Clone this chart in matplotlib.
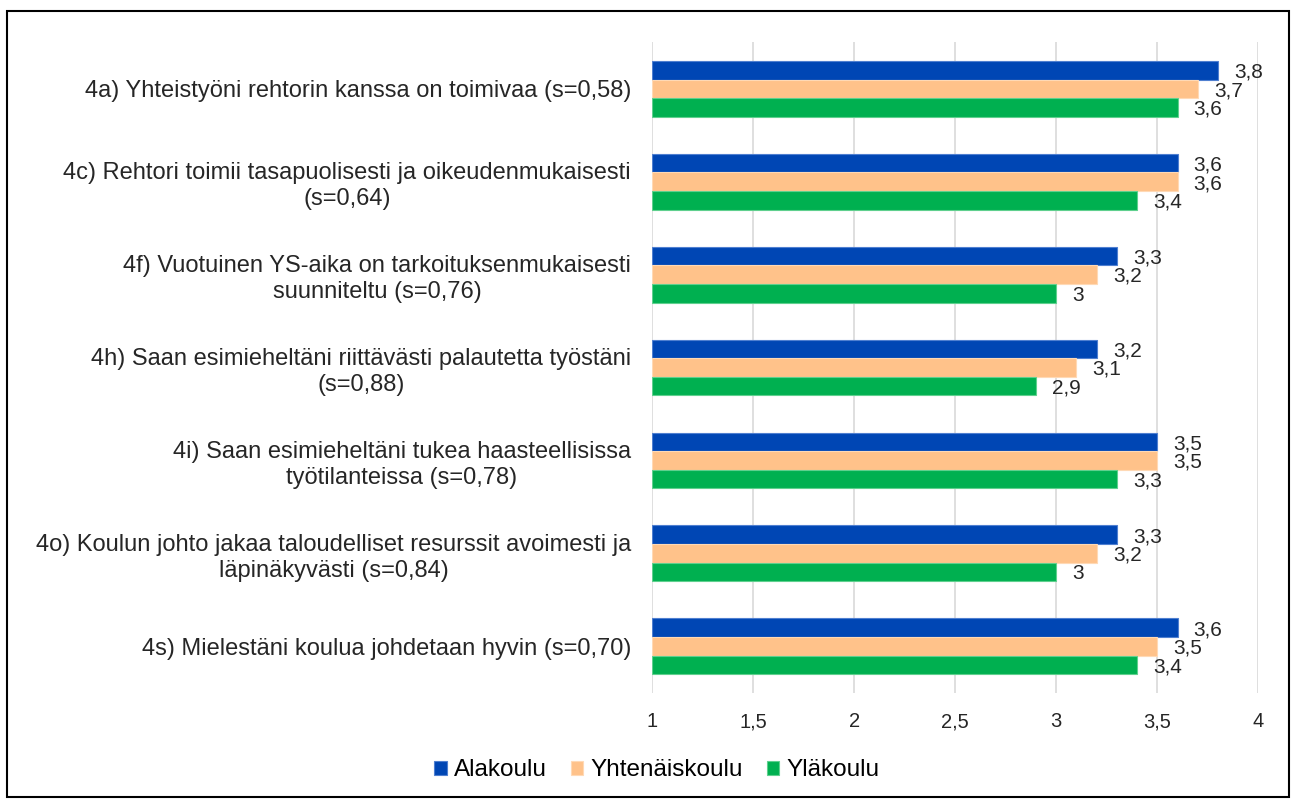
import numpy as np
import matplotlib.pyplot as plt
from matplotlib.patches import Rectangle

plt.rcParams['font.family'] = ['Liberation Sans', 'DejaVu Sans']

questions = [
    "4a) Yhteistyöni rehtorin kanssa on toimivaa (s=0,58)",
    "4c) Rehtori toimii tasapuolisesti ja oikeudenmukaisesti\n(s=0,64)",
    "4f) Vuotuinen YS-aika on tarkoituksenmukaisesti\nsuunniteltu (s=0,76)",
    "4h) Saan esimieheltäni riittävästi palautetta työstäni\n(s=0,88)",
    "4i) Saan esimieheltäni tukea haasteellisissa\ntyötilanteissa (s=0,78)",
    "4o) Koulun johto jakaa taloudelliset resurssit avoimesti ja\nläpinäkyvästi (s=0,84)",
    "4s) Mielestäni koulua johdetaan hyvin (s=0,70)",
]
alakoulu = [3.8, 3.6, 3.3, 3.2, 3.5, 3.3, 3.6]
yhtenaiskoulu = [3.7, 3.6, 3.2, 3.1, 3.5, 3.2, 3.5]
ylakoulu = [3.6, 3.4, 3.0, 2.9, 3.3, 3.0, 3.4]

series = [("Alakoulu", alakoulu, "#0046B4", "#4F7FD0"),
          ("Yhtenäiskoulu", yhtenaiskoulu, "#FFC28A", "#FFD9B5"),
          ("Yläkoulu", ylakoulu, "#00B050", "#5FD08E")]

fig = plt.figure(figsize=(12.96, 7.99), dpi=100)
ax = fig.add_axes([0.503, 0.133, 0.468, 0.814])

y = np.arange(len(questions))
h = 0.2
for k, (name, vals, col, edge) in enumerate(series):
    pos = y - h + k * h
    ax.barh(pos, np.array(vals) - 1, left=1, height=h, color=col, label=name,
            edgecolor=edge, linewidth=0.8, zorder=3)
    for p, v in zip(pos, vals):
        ax.text(v + 0.08, p + 0.02, f"{v:g}".replace('.', ','), va='center', ha='left',
                fontsize=15, color='#262626', zorder=4)

ax.set_xlim(1, 4)
ax.set_ylim(len(questions) - 0.5, -0.5)
ax.set_xticks([1, 1.5, 2, 2.5, 3, 3.5, 4])
ax.set_xticklabels(["1", "1,5", "2", "2,5", "3", "3,5", "4"])
ax.set_yticks(y)
ax.set_yticklabels(questions, multialignment='center', linespacing=1.25)
ax.tick_params(axis='x', length=0, pad=14, labelsize=14.5, labelcolor='#262626')
ax.tick_params(axis='y', length=0, pad=15, labelsize=17, labelcolor='#262626')
ax.grid(axis='x', color='#D9D9D9', linewidth=1.2, zorder=0)
for s in ax.spines.values():
    s.set_visible(False)

ax.legend(loc='center', bbox_to_anchor=(0.507, 0.036), bbox_transform=fig.transFigure,
          ncol=3, frameon=False, fontsize=17.5, handlelength=0.5, handleheight=0.5,
          handletextpad=0.3, columnspacing=1.0)

fig.patches.append(Rectangle((7 / 1296, 2 / 799), 1282 / 1296, 786 / 799,
                             transform=fig.transFigure, fill=False,
                             edgecolor='black', linewidth=1.5))

fig.savefig("out.png", dpi=100)
